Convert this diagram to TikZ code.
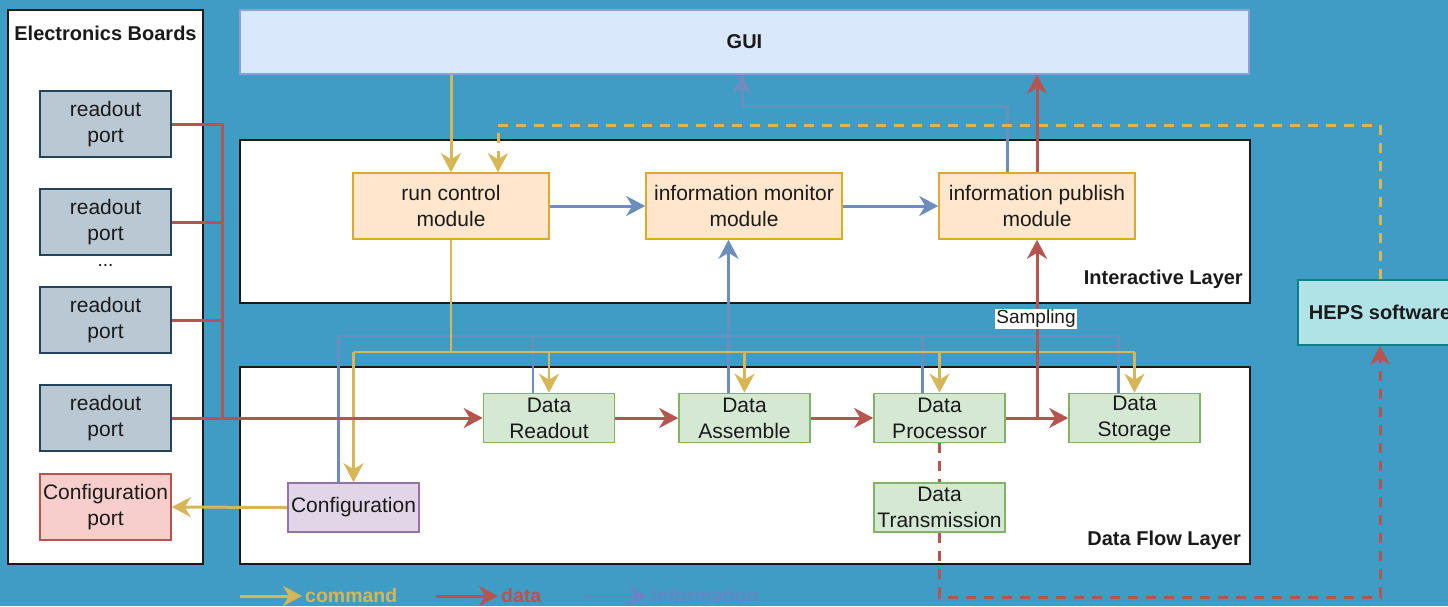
\documentclass[tikz,border=0pt]{standalone}
\usepackage{fontspec}
\setmainfont{Liberation Sans}
\usetikzlibrary{arrows.meta,calc}
\definecolor{bgblue}{RGB}{63,156,197}
\definecolor{cmd}{RGB}{214,182,86}
\definecolor{dat}{RGB}{184,84,80}
\definecolor{inf}{RGB}{108,142,191}
\definecolor{infleg}{RGB}{112,128,196}
\definecolor{txt}{RGB}{26,26,26}
\definecolor{portfill}{RGB}{186,200,211}
\definecolor{portdraw}{RGB}{35,68,93}
\definecolor{cpfill}{RGB}{248,206,204}
\definecolor{cpdraw}{RGB}{184,84,80}
\definecolor{modfill}{RGB}{255,230,204}
\definecolor{moddraw}{RGB}{222,168,40}
\definecolor{dfill}{RGB}{213,232,212}
\definecolor{ddraw}{RGB}{130,179,102}
\definecolor{cfgfill}{RGB}{225,213,231}
\definecolor{cfgdraw}{RGB}{150,115,166}
\definecolor{guifill}{RGB}{218,232,252}
\definecolor{guidraw}{RGB}{140,160,215}
\definecolor{hepsfill}{RGB}{176,227,230}
\definecolor{hepsdraw}{RGB}{14,128,136}
\pgfdeclarelayer{bg}
\pgfdeclarelayer{edges}
\pgfsetlayers{bg,edges,main}
\tikzset{
  tip/.tip={Stealth[length=19pt,width=20pt,inset=6pt]},
  box/.style={draw, line width=1.6pt, inner sep=0pt, align=center, text=txt,
    font=\fontsize{21}{26}\selectfont},
  port/.style={box, fill=portfill, draw=portdraw, minimum width=131pt, minimum height=66pt},
  cport/.style={box, fill=cpfill, draw=cpdraw, minimum width=131pt, minimum height=66pt},
  modbox/.style={box, fill=modfill, draw=moddraw, minimum width=196pt, minimum height=66pt},
  dbox/.style={box, fill=dfill, draw=ddraw, minimum width=131pt, minimum height=49pt},
  cfgbox/.style={box, fill=cfgfill, draw=cfgdraw, minimum width=131pt, minimum height=49pt},
  layerbox/.style={draw=txt, fill=white, line width=2pt, inner sep=0pt},
  title/.style={font=\fontsize{20}{24}\selectfont\bfseries, text=txt, inner sep=0pt},
  dl/.style={draw=dat, line width=3pt},
  cl/.style={draw=cmd, line width=3pt},
  il/.style={draw=inf, line width=3pt},
  cbus/.style={draw=cmd, line width=2.4pt},
  ibus/.style={draw=inf, line width=2.4pt},
  dsh/.style={dash pattern=on 10pt off 8pt},
  legtext/.style={font=\fontsize{19.5}{22}\selectfont\bfseries, anchor=west, inner sep=0pt}
}
\begin{document}
\begin{tikzpicture}[x=1pt,y=-1pt,>=tip]
\useasboundingbox (0,0) rectangle (1448,606);

% background and containers
\begin{pgfonlayer}{bg}
\fill[bgblue] (0,0) rectangle (1448,606);
\node[layerbox, minimum width=195pt, minimum height=554pt] (eb) at (105.5,287) {};
\node[layerbox, minimum width=1010pt, minimum height=163pt] (il) at (745,221.5) {};
\node[layerbox, minimum width=1010pt, minimum height=197pt] (dfl) at (745,465.5) {};
\end{pgfonlayer}

\node[title] (ebt) at (105.5,33) {Electronics Boards};
\node[title, anchor=east] (ilt) at (1243,279) {Interactive Layer};
\node[title, anchor=east] (dflt) at (1241,540) {Data Flow Layer};

% electronics boards
\node[port] (rb1) at (105.5,124) {readout\\port};
\node[port] (rb2) at (105.5,222) {readout\\port};
\node[font=\fontsize{19}{22}\selectfont, text=txt, inner sep=0pt] (dots) at (105.5,265) {...};
\node[port] (rb3) at (105.5,320) {readout\\port};
\node[port] (rb4) at (105.5,418) {readout\\port};
\node[cport] (cp) at (105.5,507) {Configuration\\port};

% GUI
\node[box, fill=guifill, draw=guidraw, minimum width=1009pt, minimum height=64pt,
  font=\fontsize{20}{24}\selectfont\bfseries] (gui) at (744.5,42) {GUI};

% interactive layer modules
\node[modbox] (rc) at (451,206) {run control\\module};
\node[modbox] (im) at (744,206) {information monitor\\module};
\node[modbox] (ip) at (1037,206) {information publish\\module};

% data flow layer
\node[cfgbox] (cfg) at (353.5,507.5) {Configuration};
\node[dbox] (dr) at (549,418) {Data\\Readout};
\node[dbox] (da) at (744.5,418) {Data\\Assemble};
\node[dbox] (dp) at (939.5,418) {Data\\Processor};
\node[dbox] (ds) at (1134.5,418) {Data\\Storage};
\node[dbox] (dt) at (939.5,507.5) {Data\\Transmission};

% HEPS software (cut by the right edge, as in the reference)
\node[box, fill=hepsfill, draw=hepsdraw, minimum width=164pt, minimum height=65pt,
  font=\fontsize{20}{24}\selectfont\bfseries] (heps) at (1380,312.5) {HEPS software};

% helper coordinates
\coordinate (rbus) at (222,418);
\coordinate (ck) at (498,125);
\coordinate (yb) at (0,352);
\coordinate (ib) at (0,336);
\coordinate (bk) at (742,106);
\coordinate (rdash) at (0,597);
\coordinate (cfgb) at ([xshift=-15pt]cfg.north);
\coordinate (drb) at ([xshift=-16pt]dr.north);
\coordinate (dab) at ([xshift=-16pt]da.north);
\coordinate (dpb) at ([xshift=-17pt]dp.north);
\coordinate (dsb) at ([xshift=-16pt]ds.north);
\coordinate (ipb) at ([xshift=-30pt]ip.north);

\begin{pgfonlayer}{edges}
% information
\draw[il,->] (rc.east) -- (im.west);
\draw[il,->] (im.east) -- (ip.west);
\draw[il,->] (ipb) |- (bk) -- (bk |- gui.south);
\draw[ibus] (cfgb) -- (cfgb |- ib) -- (dsb |- ib) -- (dsb);
\draw[ibus] (drb) -- (drb |- ib);
\draw[ibus] (dpb) -- (dpb |- ib);
\draw[il,->] (dab) -- (dab |- im.south);
% command
\draw[cl,->] (gui.south -| rc.north) -- (rc.north);
\draw[cl,dsh,->] (heps.north) |- (ck) -- (ck |- rc.north);
\draw[cbus] (rc.south) -- (rc.south |- yb);
\draw[cbus] (cfg.north |- yb) -- (ds.north |- yb);
\draw[cbus,->] (cfg.north |- yb) -- (cfg.north);
\draw[cbus,->] (dr.north |- yb) -- (dr.north);
\draw[cbus,->] (da.north |- yb) -- (da.north);
\draw[cbus,->] (dp.north |- yb) -- (dp.north);
\draw[cbus,->] (ds.north |- yb) -- (ds.north);
\draw[cl,->] (cfg.west) -- (cp.east);
% data
\draw[dl] (rb1.east) -| (rbus);
\draw[dl] (rb2.east) -| (rbus);
\draw[dl] (rb3.east) -| (rbus);
\draw[dl,->] (rb4.east) -- (dr.west);
\draw[dl,->] (dr.east) -- (da.west);
\draw[dl,->] (da.east) -- (dp.west);
\draw[dl,->] (dp.east) -- (ds.west);
\draw[dl,->] (ip.south |- dp.east) -- (ip.south);
\draw[dl,->] (ip.north) -- (ip.north |- gui.south);
\draw[dl,dsh,->] (dp.south) -- (dp.south |- rdash) -| (heps.south);
\end{pgfonlayer}

\node[fill=white, inner sep=1.5pt, text=txt, font=\fontsize{19}{22}\selectfont] (samp) at (1036,319) {Sampling};

% legend
\coordinate (lc1) at (240,596);
\coordinate (lc2) at (302,596);
\coordinate (ld1) at (436,596);
\coordinate (ld2) at (498,596);
\coordinate (li1) at (586,596);
\coordinate (li2) at (648,596);
\draw[cl,->] (lc1) -- (lc2);
\node[legtext, text=cmd] (lct) at (305,596) {command};
\draw[dl,->] (ld1) -- (ld2);
\node[legtext, text=dat] (ldt) at (501,596) {data};
\draw[draw=infleg, line width=3pt, opacity=0.75, ->] (li1) -- (li2);
\node[legtext, text=infleg, text opacity=0.7] (lit) at (651,596) {information};
\end{tikzpicture}
\end{document}
